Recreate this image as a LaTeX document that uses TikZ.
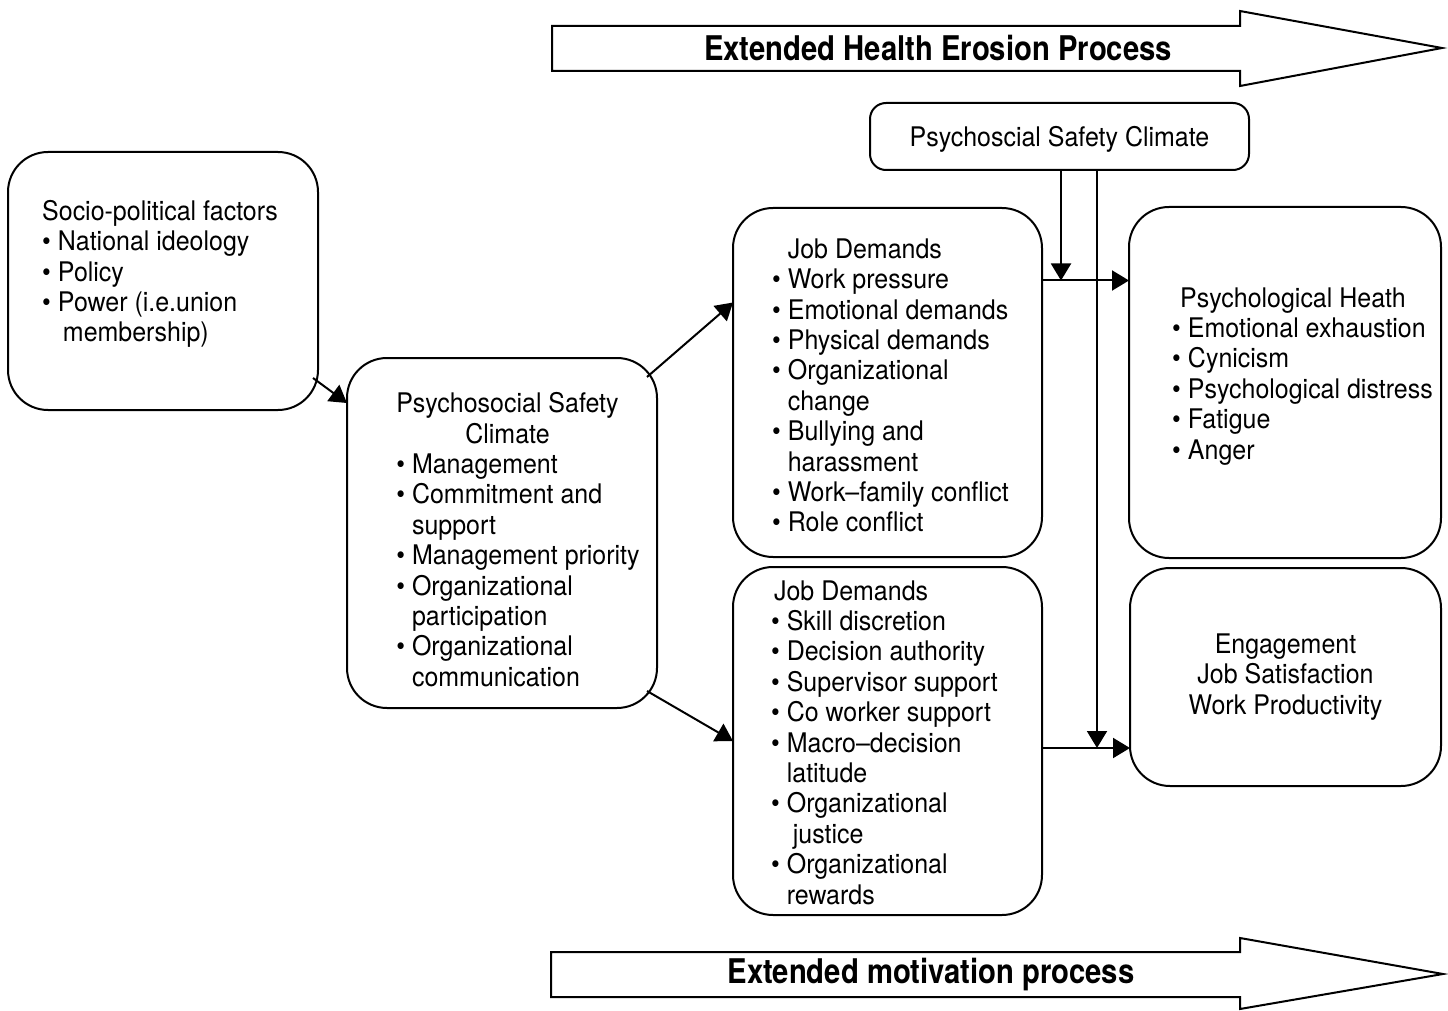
\documentclass[tikz,border=0pt]{standalone}
\usepackage{fontspec}
\usepackage{graphicx}
\setmainfont[FakeStretch=0.925]{TeX Gyre Heros}
\newfontfamily\procfont[FakeStretch=0.86]{TeX Gyre Heros}
\usetikzlibrary{arrows.meta}
\newlength\pscwidth
% two-column bullet list: bullet column + item column
\newcommand\blist[1]{\begin{tabular}{@{}l@{\hspace{3.5pt}}l@{}}#1\end{tabular}}

\begin{document}
\begin{tikzpicture}[x=0.5pt,y=-0.5pt,
  every node/.style={font=\fontsize{13.5}{15.2}\selectfont},
  box/.style={draw, line width=1pt, rounded corners=20pt, outer sep=0pt, inner sep=0pt},
  arr/.style={line width=1pt, -{Triangle[length=8.5pt,width=10pt]}},
  process/.style={font=\procfont\bfseries\fontsize{17}{20}\selectfont},
  bigarrow/.style={draw, line width=1pt, line join=miter, fill=white}
]
\useasboundingbox (0,0) rectangle (1448,1011);

% process arrows
\draw[bigarrow] (552,26) -- (1240,26) -- (1240,11) -- (1442,48) -- (1240,86) -- (1240,71) -- (552,71) -- cycle;
\node[process] (erosion) at (938,48) {Extended Health Erosion Process};
\draw[bigarrow] (551,952) -- (1240,952) -- (1240,938) -- (1443,974) -- (1240,1009) -- (1240,997) -- (551,997) -- cycle;
\node[process] (motivation) at (931,975) {Extended motivation process};

% boxes
\node[box, minimum width=155pt, minimum height=129pt] (socio) at (163,281)
 {\blist{\multicolumn{2}{@{}l@{}}{Socio-political factors}\\
  \textbullet & National ideology\\
  \textbullet & Policy\\
  \textbullet & Power (i.e.union\\
  & \hspace*{2.5pt}membership)\rule[-10.5pt]{0pt}{0pt}}\hspace*{3pt}};

\node[box, minimum width=155pt, minimum height=175pt] (psc) at (502,533)
 {\hspace*{16pt}\settowidth\pscwidth{Psychosocial Safety}%
  \blist{\multicolumn{2}{@{}l@{}}{\rule{0pt}{21pt}Psychosocial Safety}\\
  \multicolumn{2}{@{}l@{}}{\makebox[\pscwidth]{Climate}}\\
  \textbullet & Management\\
  \textbullet & Commitment and\\
  & support\\
  \textbullet & Management priority\\
  \textbullet & Organizational\\
  & participation\\
  \textbullet & Organizational\\
  & communication}};

\node[box, minimum width=154.5pt, minimum height=174.5pt] (jdA) at (887.5,382.5)
 {\hspace*{3pt}\blist{& \rule{0pt}{17.2pt}Job Demands\\
  \textbullet & Work pressure\\
  \textbullet & Emotional demands\\
  \textbullet & Physical demands\\
  \textbullet & Organizational\\
  & change\\
  \textbullet & Bullying and\\
  & harassment\\
  \textbullet & Work–family conflict\\
  \textbullet & Role conflict}};

\node[box, minimum width=154.5pt, minimum height=174pt] (jdB) at (887.5,741)
 {\blist{\multicolumn{2}{@{}l@{}}{\rule{0pt}{15.7pt}\hspace*{1.5pt}Job Demands}\\
  \textbullet & Skill discretion\\
  \textbullet & Decision authority\\
  \textbullet & Supervisor support\\
  \textbullet & Co worker support\\
  \textbullet & Macro–decision\\
  & latitude\\
  \textbullet & Organizational\\
  & \hspace*{3pt}justice\\
  \textbullet & Organizational\\
  & rewards}\hspace*{3pt}};

\node[box, rounded corners=8pt, minimum width=189.5pt, minimum height=33.5pt] (pscTop) at (1059.5,136.5)
 {\rule{0pt}{12.6pt}Psychoscial Safety Climate};

\node[box, minimum width=156pt, minimum height=175.5pt] (health) at (1285,382.5)
 {\hspace*{17.5pt}\blist{\multicolumn{2}{@{}l@{}}{\hspace*{4pt}Psychological Heath}\\
  \textbullet & Emotional exhaustion\\
  \textbullet & Cynicism\\
  \textbullet & Psychological distress\\
  \textbullet & Fatigue\\
  \textbullet & Anger\rule[-10pt]{0pt}{0pt}}};

\node[box, align=center, minimum width=155.5pt, minimum height=109pt] (engage) at (1285.5,677)
 {Engagement\\Job Satisfaction\\Work Productivity};

% connectors
\draw[arr] ([shift={(-5,97)}]socio.east) -- ([shift={(0,-130)}]psc.west);
\draw[arr] ([shift={(-10,-156)}]psc.east) -- ([shift={(0,-80)}]jdA.west);
\draw[arr] ([shift={(-10,158)}]psc.east) -- (jdB.west);

\path ([shift={(0,-102)}]jdA.east) coordinate (hA);
\path ([shift={(0,7)}]jdB.east) coordinate (hB);
\draw[arr] (hA) -- (hA -| health.west);
\draw[arr] (hB) -- (hB -| engage.west);

\path ([shift={(1.5,0)}]pscTop.south) coordinate (vA);
\path ([shift={(37.5,0)}]pscTop.south) coordinate (vB);
\draw[arr] (vA) -- (vA |- hA);
\draw[arr] (vB) -- (vB |- hB);
\end{tikzpicture}
\end{document}
